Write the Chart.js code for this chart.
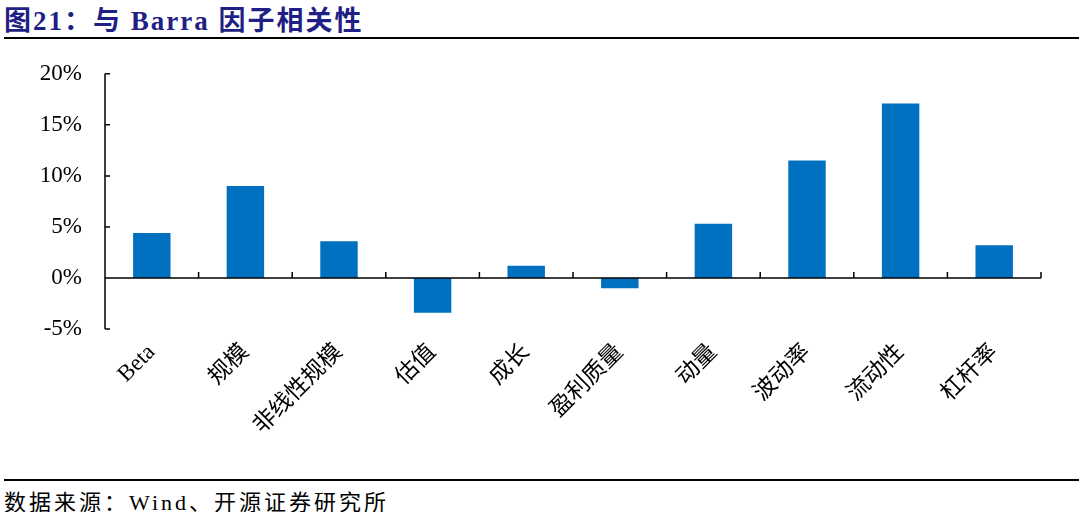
<!DOCTYPE html>
<html>
<head>
<meta charset="utf-8">
<script src="https://cdn.jsdelivr.net/npm/chart.js@4.4.1/dist/chart.umd.min.js"></script>
<style>
    body { margin: 0; background: #fff; width: 1079px; height: 512px; position: relative; overflow: hidden; }
    .title {
        position: absolute; left: 4px; top: -1px;
        font-family: "Liberation Serif", "Noto Sans CJK SC", serif;
        font-weight: bold; font-size: 27px; letter-spacing: 2px; color: #1f1f86;
    }
    .rule { position: absolute; left: 4px; right: 0; height: 2px; background: #000; }
    .source {
        position: absolute; left: 4px; top: 484px;
        font-family: "Liberation Serif", "Noto Sans CJK SC", serif;
        font-size: 22px; letter-spacing: 3px; color: #000;
    }
    #wrap { position: absolute; left: 0; top: 45px; width: 1079px; height: 420px; }
</style>
</head>
<body>
<div class="title">图21：与 Barra 因子相关性</div>
<div class="rule" style="top:37px"></div>
<div id="wrap"><canvas id="barraChart"></canvas></div>
<div class="rule" style="top:479px"></div>
<div class="source">数据来源：Wind、开源证券研究所</div>
<script>
// 因子名称
const factors = ['Beta', '规模', '非线性规模', '估值', '成长', '盈利质量', '动量', '波动率', '流动性', '杠杆率'];
// 相关性 (%)
const corrValues = [4.4, 9.0, 3.6, -3.4, 1.2, -1.0, 5.3, 11.5, 17.1, 3.2];
// 纵轴刻度
const yTicks = [-5, 0, 5, 10, 15, 20];

const fontFamily = '"Liberation Serif", "Noto Sans CJK SC", serif';

// 画零轴线和向内的刻度
const axisDecor = {
    id: 'axisDecor',
    afterDatasetsDraw(chart) {
        const ctx = chart.ctx;
        const x = chart.scales.x;
        const y = chart.scales.y;
        const area = chart.chartArea;
        const y0 = y.getPixelForValue(0);
        ctx.save();
        ctx.strokeStyle = '#000';
        ctx.lineWidth = 1.5;
        // 纵轴
        ctx.beginPath();
        ctx.moveTo(area.left, area.top);
        ctx.lineTo(area.left, area.bottom);
        yTicks.forEach(v => {
            const py = y.getPixelForValue(v);
            ctx.moveTo(area.left, py);
            ctx.lineTo(area.left + 5, py);
        });
        // 零轴
        ctx.moveTo(area.left, y0);
        ctx.lineTo(area.right, y0);
        for (let i = 0; i < factors.length; i++) {
            const px = (x.getPixelForValue(i) + x.getPixelForValue(i + 1)) / 2;
            const edge = i === factors.length - 1 ? area.right : px;
            ctx.moveTo(edge, y0);
            ctx.lineTo(edge, y0 - 6);
        }
        ctx.stroke();
        ctx.restore();
    }
};

const ctx = document.getElementById('barraChart').getContext('2d');
new Chart(ctx, {
    type: 'bar',
    data: {
        labels: factors,
        datasets: [{
            data: corrValues,
            backgroundColor: '#0070c0',
            borderWidth: 0,
            categoryPercentage: 1,
            barPercentage: 0.4
        }]
    },
    options: {
        responsive: true,
        maintainAspectRatio: false,
        animation: false,
        layout: { padding: { top: 20, right: 38, left: 0, bottom: 0 } },
        plugins: {
            legend: { display: false },
            tooltip: { enabled: false }
        },
        scales: {
            x: {
                grid: { display: false },
                border: { display: false },
                ticks: {
                    color: '#000',
                    font: { family: fontFamily, size: 23 },
                    maxRotation: 45,
                    minRotation: 45,
                    padding: 2,
                    autoSkip: false
                },
                afterFit(scale) { scale.height = 136; }
            },
            y: {
                min: -5,
                max: 20,
                grid: { display: false },
                border: { display: false },
                afterBuildTicks(scale) {
                    scale.ticks = yTicks.map(v => ({ value: v }));
                },
                ticks: {
                    color: '#000',
                    font: { family: fontFamily, size: 23 },
                    padding: 15,
                    callback: v => v + '%'
                },
                afterFit(scale) { scale.width = 105; }
            }
        }
    },
    plugins: [axisDecor]
});
</script>
</body>
</html>
